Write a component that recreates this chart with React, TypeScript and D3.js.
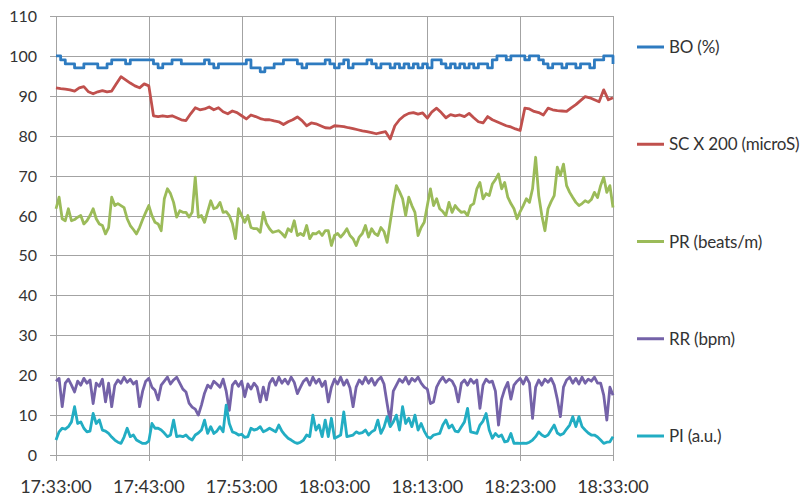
import React, { useEffect, useRef } from "react";
import * as d3 from "d3";

// x axis: minutes after 17:33:00, one label every 10 min
const timeLabels = ["17:33:00", "17:43:00", "17:53:00", "18:03:00", "18:13:00", "18:23:00", "18:33:00"];
const yTicks = [0, 10, 20, 30, 40, 50, 60, 70, 80, 90, 100, 110];

const seriesNames = ["BO (%)", "SC X 200 (microS)", "PR (beats/m)", "RR (bpm)", "PI (a.u.)"];
const seriesColors = ["#2E7BC0", "#C0504D", "#9BBB59", "#7462A8", "#22ADC3"];

// BO and SC sampled every 30 s
const boValues = [
  100, 99, 98, 98, 97, 97, 98, 98, 98, 97,
  97, 98, 99, 99, 99, 98, 99, 99, 99, 99,
  99, 98, 97, 98, 98, 99, 99, 98, 98, 98,
  98, 98, 99, 98, 97, 98, 98, 98, 98, 98,
  98, 99, 97, 97, 96, 97, 97, 98, 98, 99,
  99, 99, 98, 97, 98, 98, 98, 98, 99, 98,
  97, 98, 99, 97, 98, 98, 98, 99, 98, 97,
  98, 98, 97, 98, 97, 98, 97, 98, 97, 98,
  97, 99, 99, 98, 97, 98, 97, 98, 97, 98,
  97, 98, 98, 97, 99, 100, 100, 99, 100, 100,
  100, 99, 100, 100, 99, 98, 97, 98, 98, 97,
  98, 98, 97, 98, 98, 97, 99, 99, 100, 100,
  98,
];

const scValues = [
  92, 91.8, 91.7, 91.5, 91.2, 92, 92.3, 91, 90.5, 91,
  91.3, 91, 91.2, 93, 94.8, 94, 93.2, 92.5, 92, 93,
  92.5, 85, 84.8, 85, 84.8, 85, 84.5, 84, 83.8, 85.5,
  87, 86.5, 86.7, 87.2, 86.5, 87, 86, 85.5, 86.2, 85.8,
  85, 84.2, 85.2, 84.8, 84.3, 84, 84, 83.7, 83.5, 82.8,
  83.5, 84, 84.7, 83.8, 82.5, 83.2, 83, 82.5, 82, 81.9,
  82.5, 82.4, 82.3, 82, 81.8, 81.5, 81.2, 81, 80.8, 80.5,
  80.8, 81, 79.2, 82.5, 84, 85, 85.6, 85.8, 85.4, 85.7,
  84.4, 86, 86.9, 85.8, 84.5, 85.3, 85, 85.2, 84.8, 85.6,
  84.5, 83.5, 83.2, 84.8, 84, 83.5, 83, 82.5, 82.2, 81.7,
  81.3, 86.9, 86.7, 86.1, 85.8, 85.2, 86.9, 86.5, 86.3, 86.2,
  86.1, 87, 87.8, 88.8, 89.8, 89.5, 89, 88.5, 91.5, 89,
  89.5,
];

// PR, RR and PI sampled every 20 s
const prValues = [
  61.7, 64.6, 59.2, 58.7, 61.7, 58.7,
  59, 59.6, 60, 57.9, 58.7, 60,
  61.7, 59.2, 57.9, 57.5, 55.4, 57,
  64.6, 62.5, 63, 62.5, 62, 59.2,
  57.5, 56.5, 55.4, 57, 59, 60.8,
  62.5, 60, 58.3, 57.9, 56.2, 64.2,
  66.7, 65.5, 63.3, 59.6, 61.2, 60.8,
  60.8, 59.6, 60.8, 69.6, 59.6, 60,
  58.3, 61, 63.7, 61.7, 62, 63.3,
  60.8, 61, 60, 58, 54.2, 61.7,
  60, 58.3, 60, 57, 56.7, 56.7,
  55.8, 60.8, 58, 56.7, 55.8, 56,
  56.2, 55.5, 54.6, 56.7, 56, 58.7,
  55, 55.5, 55, 57.5, 54.2, 55.5,
  55.4, 56, 55, 56.2, 56.2, 52.5,
  55, 55.5, 54.6, 55.5, 56.7, 55,
  54.2, 52.5, 54.6, 55.5, 57.5, 54.6,
  56.7, 55.5, 55, 57, 56, 53.3,
  58.3, 63.3, 67.5, 66, 64.2, 60,
  64.6, 62.5, 60.8, 55, 57, 58.3,
  62.5, 66.7, 62.5, 64.2, 61.7, 61,
  60, 63.3, 60.8, 62.5, 61.5, 60.8,
  61, 60, 62.5, 63, 66.7, 68.3,
  64.2, 65.5, 65, 67.9, 69, 70.4,
  66.7, 68.3, 64.6, 63, 61.7, 59.2,
  61, 62.5, 64.2, 63.3, 66.7, 74.6,
  65, 60, 56.2, 61.7, 63.5, 65,
  72.1, 70, 72.9, 67.5, 65.8, 64.5,
  63.3, 62.5, 63, 63.7, 63.3, 64,
  65.8, 64.5, 67.5, 69.6, 65.8, 67.5,
  62,
];

const rrValues = [
  18.5, 19.2, 12.1, 18, 19, 17.5,
  15.8, 18.5, 17.5, 19.2, 18, 18.8,
  12.9, 18, 17.2, 19, 13.3, 18,
  12.1, 17.5, 18.8, 18, 19.5, 18.2,
  19, 17.8, 18.5, 12.1, 16, 18.5,
  19.2, 17, 16.2, 13.8, 17.5, 18.5,
  19.5, 17.8, 18.8, 19.5, 18, 16.5,
  15.8, 13, 12, 11.5, 10, 12.5,
  15.5, 17.5, 16.8, 18.5, 17.8, 17,
  19, 16, 11.2, 17.5, 18.5, 17.2,
  18.5, 14.6, 17.8, 16.5, 18, 17,
  13.3, 17, 13.8, 18, 19.2, 17.5,
  19.5, 18, 19, 17.8, 19.5, 18.2,
  15.4, 17, 18.5, 19.2, 17.5, 19.5,
  18, 19, 17.2, 18.5, 13.3, 17,
  19, 17.8, 19.5, 17.5, 18.8, 16.8,
  12.1, 17, 18.8, 17.8, 19.5, 18,
  19.2, 17.5, 18.8, 19.5, 17.8, 12.9,
  8.3, 16, 17.5, 19, 18.2, 19.5,
  17.8, 19.2, 18.5, 19.5, 18, 17,
  16.5, 12.9, 13.3, 17, 18.5, 19.5,
  18.2, 19, 18.5, 17, 13.3, 18,
  18.8, 17.5, 19, 18, 18.8, 11.7,
  17.5, 19, 18.2, 18.5, 16, 7.5,
  14, 16.5, 18.2, 14, 17.5, 18.5,
  19.2, 17.8, 19.5, 18, 9.2, 17,
  18.8, 17.5, 19, 18.2, 19.2, 17.5,
  14, 9.6, 17, 18.8, 19.5, 18,
  19.2, 17.8, 19.5, 18, 19, 18.5,
  19.5, 18, 18, 15, 8.75, 17,
  15,
];

const piValues = [
  3.75, 5.8, 6.7, 6.5, 7.1, 8.3,
  12.1, 7.9, 8.3, 6.7, 5.8, 6,
  10.4, 7.9, 8.8, 6.25, 6, 5.4,
  4.5, 3.75, 3.2, 2.9, 4.5, 6.7,
  4.6, 5, 3.75, 3.3, 2.9, 2.9,
  3.5, 7.9, 6.7, 6.7, 6.25, 5.5,
  4.6, 5, 8.75, 4.6, 4.8, 4.6,
  5, 4.2, 3.75, 5, 5.5, 6.25,
  8.75, 5.4, 7.1, 5.4, 6, 7.1,
  5.8, 12.5, 7.9, 5.8, 5.5, 5,
  5.2, 4.4, 4.6, 6.7, 6.25, 6.5,
  7.1, 5.8, 6.2, 6.7, 6.25, 5.8,
  7.5, 6, 5, 4.2, 3.75, 3.2,
  2.9, 3.2, 3.75, 5, 4.6, 10,
  6.25, 7.5, 4.6, 8.75, 4.6, 9.2,
  4.2, 4.6, 5, 10.8, 4.6, 4.8,
  5, 5.8, 5.4, 5.6, 6.25, 5,
  5.8, 6.25, 8.75, 5.4, 7, 9.6,
  7.1, 8.3, 10, 6.25, 12.1, 7.9,
  9.2, 7.1, 10, 6.25, 7.9, 6,
  4.6, 4.2, 5, 5.2, 5.4, 7.5,
  8.75, 6.8, 7.5, 6, 5.8, 7.1,
  8.3, 11.7, 5.8, 5.6, 5.4, 7.5,
  8.5, 10.4, 6.25, 4.2, 5.4, 4.6,
  5, 3.3, 3.5, 5.4, 2.9, 3,
  2.9, 3, 2.9, 3.2, 3.75, 4.6,
  5.8, 5, 4.6, 5, 6.25, 7.5,
  5.5, 5, 5.4, 6.5, 7.5, 9.6,
  7.1, 9.6, 7.1, 6.25, 5.5, 5,
  5, 4.5, 3.75, 2.9, 3.2, 3.3,
  4.6,
];

const allSeries = [boValues, scValues, prValues, rrValues, piValues];

const App = () => {
  const chartRef = useRef<HTMLDivElement>(null);

  useEffect(() => {
    const width = 808;
    const height = 497;
    const margin = { left: 56, top: 16, right: 195, bottom: 42 };
    const totalMinutes = (timeLabels.length - 1) * 10;

    const root = d3.select(chartRef.current);
    root.selectAll("*").remove();

    const svg = root
      .append("svg")
      .attr("width", width)
      .attr("height", height)
      .style("display", "block")
      .style("font-family", "Lato, 'Open Sans', sans-serif");

    const x = d3.scaleLinear().domain([0, totalMinutes]).range([margin.left, width - margin.right]);
    const y = d3.scaleLinear().domain([0, 110]).range([height - margin.bottom, margin.top]);

    const grid = "#A3A3A3";

    // horizontal gridlines (with the little tick on the left)
    svg
      .append("g")
      .selectAll("line")
      .data(yTicks)
      .enter()
      .append("line")
      .attr("x1", x(0) - 6)
      .attr("x2", x(totalMinutes))
      .attr("y1", (d) => Math.round(y(d)) + 0.5)
      .attr("y2", (d) => Math.round(y(d)) + 0.5)
      .style("stroke", grid)
      .style("stroke-width", 1);

    // vertical gridlines, running down into the tick marks
    svg
      .append("g")
      .selectAll("line")
      .data(timeLabels)
      .enter()
      .append("line")
      .attr("x1", (d, i) => Math.round(x(i * 10)) + 0.5)
      .attr("x2", (d, i) => Math.round(x(i * 10)) + 0.5)
      .attr("y1", y(110))
      .attr("y2", y(0) + 6)
      .style("stroke", grid)
      .style("stroke-width", 1);

    svg
      .append("g")
      .selectAll("text")
      .data(yTicks)
      .enter()
      .append("text")
      .attr("x", 37)
      .attr("y", (d) => y(d) + 6)
      .attr("text-anchor", "end")
      .style("font-size", "16px")
      .style("fill", "#333")
      .text((d) => d);

    svg
      .append("g")
      .selectAll("text")
      .data(timeLabels)
      .enter()
      .append("text")
      .attr("x", (d, i) => x(i * 10))
      .attr("y", 493)
      .attr("text-anchor", "middle")
      .style("font-size", "18px")
      .style("fill", "#333")
      .text((d) => d);

    // series, first one drawn underneath
    allSeries.forEach((values, s) => {
      const step = totalMinutes / (values.length - 1);
      const line = d3
        .line<number>()
        .x((d, i) => x(i * step))
        .y((d) => y(d))
        .curve(s === 0 ? d3.curveStepAfter : d3.curveLinear);
      svg
        .append("path")
        .datum(values)
        .attr("d", line)
        .style("fill", "none")
        .style("stroke", seriesColors[s])
        .style("stroke-width", 2.8)
        .style("stroke-linejoin", "round");
    });

    // legend
    const legendY = d3.scalePoint<string>().domain(seriesNames).range([47, 436]);
    const legend = svg
      .append("g")
      .selectAll("g")
      .data(seriesNames)
      .enter()
      .append("g")
      .attr("transform", (d) => `translate(637,${legendY(d)})`);

    legend
      .append("line")
      .attr("x1", 0)
      .attr("x2", 27)
      .style("stroke", (d, i) => seriesColors[i])
      .style("stroke-width", 3);

    legend
      .append("text")
      .attr("x", 32)
      .attr("y", 6)
      .style("font-size", "17px")
      .style("letter-spacing", "-0.2px")
      .style("fill", "#333")
      .text((d) => d);
  }, []);

  return <div ref={chartRef} style={{ position: "absolute", left: 0, top: 0 }}></div>;
};

export default App;
